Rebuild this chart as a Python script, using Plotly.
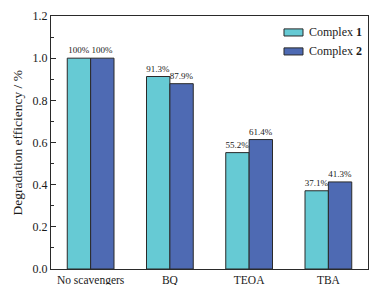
import plotly.graph_objects as go

categories = ["No scavengers", "BQ", "TEOA", "TBA"]
complex1 = [1.0, 0.913, 0.552, 0.371]
complex2 = [1.0, 0.879, 0.614, 0.413]
labels1 = ["100%", "91.3%", "55.2%", "37.1%"]
labels2 = ["100%", "87.9%", "61.4%", "41.3%"]
series_names = ["Complex <b>1</b>", "Complex <b>2</b>"]
colors = ["#66CAD4", "#4E6AB3"]
yticks = [0.0, 0.2, 0.4, 0.6, 0.8, 1.0, 1.2]

font = "Liberation Serif, Times New Roman, serif"
edge = "#2a2a2a"

fig = go.Figure()
for vals, labs, name, col in [(complex1, labels1, series_names[0], colors[0]),
                              (complex2, labels2, series_names[1], colors[1])]:
    fig.add_trace(go.Bar(x=categories, y=vals, name=name,
                         marker=dict(color=col, line=dict(color=edge, width=1)),
                         text=labs, textposition="outside", constraintext="none",
                         textfont=dict(size=9, color="#1a1a1a", family=font),
                         cliponaxis=False, showlegend=False))

# page body has an 8px margin, so the figure is sized/offset to fit the 378x293 window
fig.update_layout(
    width=362, height=277,
    margin=dict(l=43, r=2, t=8, b=16, autoexpand=False),
    paper_bgcolor="white", plot_bgcolor="white",
    font=dict(family=font, size=11, color="#222"),
    barmode="group", bargap=0.41, bargroupgap=0,
    showlegend=False,
)
fig.update_xaxes(showline=True, linecolor=edge, linewidth=1, mirror=True, automargin=False,
                 ticks="", tickfont=dict(size=11.5, family=font, color="#1a1a1a"), showgrid=False)
fig.update_yaxes(range=[0, 1.2], tickvals=yticks, tickformat=".1f", automargin=False,
                 showline=True, linecolor=edge, linewidth=1, mirror=True,
                 ticks="inside", ticklen=5, tickcolor=edge,
                 minor=dict(ticks="inside", ticklen=3, dtick=0.1, tickcolor=edge),
                 showgrid=False, zeroline=False,
                 tickfont=dict(size=12, family=font, color="#1a1a1a"))

# y-axis title
fig.add_annotation(text="Degradation efficiency / %", textangle=-90,
                   xref="paper", yref="paper", x=-0.107, y=0.5,
                   xanchor="center", yanchor="middle", showarrow=False,
                   font=dict(size=13.5, family=font, color="#1a1a1a"))

# custom legend
legend_y = [(0.949, 0.921), (0.874, 0.846)]
for (ytop, ybot), name, col in zip(legend_y, series_names, colors):
    fig.add_shape(type="rect", xref="x domain", yref="y domain",
                  x0=0.735, x1=0.795, y0=ybot, y1=ytop,
                  fillcolor=col, line=dict(color=edge, width=1))
    fig.add_annotation(text=name, xref="x domain", yref="y domain",
                       x=0.808, y=(ytop + ybot) / 2, xanchor="left", yanchor="middle",
                       showarrow=False, font=dict(size=12, family=font, color="#1a1a1a"))

fig.write_html("out.html")
